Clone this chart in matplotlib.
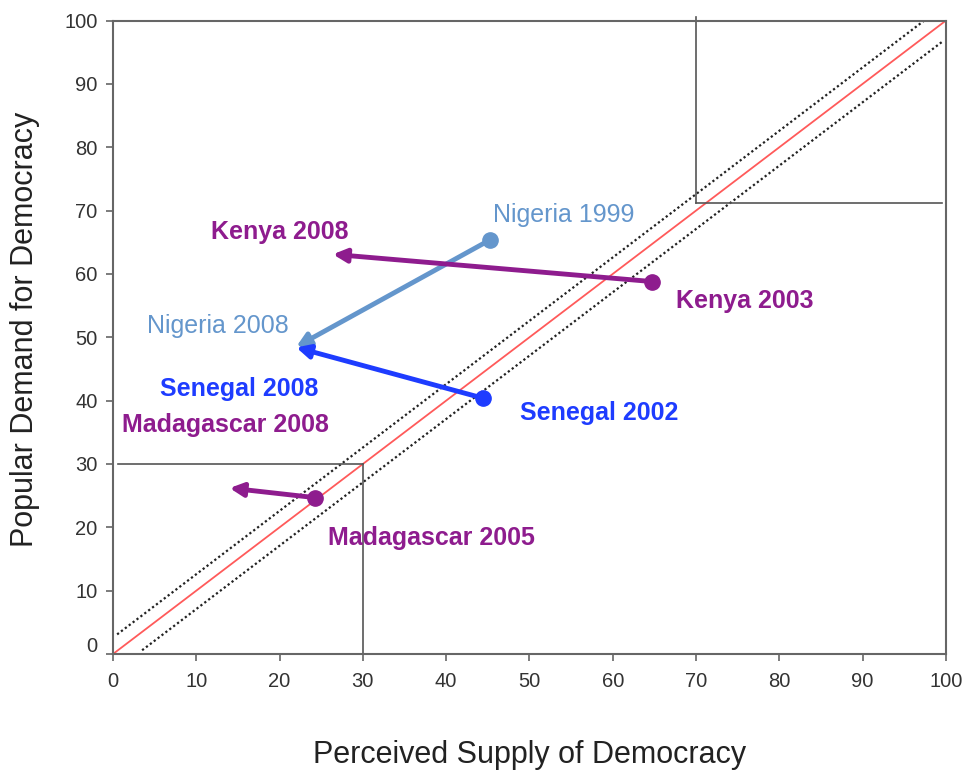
import matplotlib
matplotlib.use("Agg")
import matplotlib.pyplot as plt
import matplotlib.transforms as mtransforms
import numpy as np

plt.rcParams['font.family'] = ['Liberation Sans', 'DejaVu Sans']

# --- data -------------------------------------------------------------
countries = ["Nigeria", "Senegal", "Kenya", "Madagascar"]
supply_start = [45.3, 44.4, 64.7, 24.2]
demand_start = [65.4, 40.4, 58.8, 24.7]
supply_end = [22.0, 22.0, 26.4, 14.0]
demand_end = [48.5, 48.4, 63.1, 26.2]
colors = ["#6496cc", "#1e3cff", "#8e1c8e", "#8e1c8e"]

label_text = ["Nigeria 1999", "Nigeria 2008", "Senegal 2002", "Senegal 2008",
              "Kenya 2003", "Kenya 2008", "Madagascar 2005", "Madagascar 2008"]
label_x = [45.6, 4.1, 48.9, 5.6, 67.6, 11.8, 25.8, 1.1]
label_y = [69.3, 51.8, 38.0, 41.8, 55.7, 66.6, 18.3, 36.1]
label_color = ["#6496cc", "#6496cc", "#1e3cff", "#1e3cff",
               "#8e1c8e", "#8e1c8e", "#8e1c8e", "#8e1c8e"]
label_bold = [False, False, True, True, True, True, True, True]

band_offset_hi = 2.6
band_offset_lo = -2.9
quad_lo = 30
quad_hi_x = 70
quad_hi_y = 71.2

# --- plot -------------------------------------------------------------
fig = plt.figure(figsize=(9.68, 7.72), dpi=100)
ax = fig.add_axes([0.1167, 0.1528, 0.8605, 0.8206])
ax.set_xlim(0, 100)
ax.set_ylim(0, 100)

# diagonal and band
diag = np.array([0, 100])
ax.plot(diag, diag, color="#ff5a5a", lw=1.3, zorder=2)
ax.plot([0.5, 97.7], [0.5 + band_offset_hi, 97.7 + band_offset_hi],
        color="#222222", lw=1.6, ls=(0, (1, 1.2)), zorder=2)
ax.plot([3.5, 99.5], [3.5 + band_offset_lo, 99.5 + band_offset_lo],
        color="#222222", lw=1.6, ls=(0, (1, 1.2)), zorder=2)

# quadrant boxes
ax.plot([0.6, quad_lo], [quad_lo, quad_lo], color="#555555", lw=1.2)
ax.plot([quad_lo, quad_lo], [0, quad_lo], color="#555555", lw=1.2)
ax.plot([quad_hi_x, quad_hi_x], [quad_hi_y, 100.6], color="#555555", lw=1.2,
        clip_on=False)
ax.plot([quad_hi_x, 99.5], [quad_hi_y, quad_hi_y], color="#555555", lw=1.2)

# trajectories
for i in range(len(countries)):
    ax.annotate("", xy=(supply_end[i], demand_end[i]),
                xytext=(supply_start[i], demand_start[i]),
                arrowprops=dict(arrowstyle="-|>,head_length=0.8,head_width=0.4",
                                color=colors[i], lw=3.5, shrinkA=0, shrinkB=0),
                zorder=4)
    ax.plot(supply_start[i], demand_start[i], "o", color=colors[i],
            markersize=11, zorder=5)

for t, x, y, c, b in zip(label_text, label_x, label_y, label_color, label_bold):
    ax.text(x, y, t, color=c, fontsize=18, ha="left", va="center",
            fontweight="bold" if b else "normal", zorder=6)

# axes styling
for s in ax.spines.values():
    s.set_color("#666666")
    s.set_linewidth(1.5)
ax.set_xticks(range(0, 101, 10))
ax.set_yticks(range(0, 101, 10))
ax.tick_params(axis="both", length=5, width=1.2, color="#666666",
               labelsize=14.5, labelcolor="#333333")
ax.tick_params(axis="x", pad=8)
ax.tick_params(axis="y", pad=6)
# the "0" on the y axis sits a little above its tick
zero_lab = ax.get_yticklabels()[0]
zero_lab.set_transform(zero_lab.get_transform() +
                       mtransforms.ScaledTranslation(0, 0.1, fig.dpi_scale_trans))

ax.set_xlabel("Perceived Supply of Democracy", fontsize=22, color="#222222",
              labelpad=35)
ax.set_ylabel("Popular Demand for Democracy", fontsize=22, color="#222222",
              labelpad=16)
ax.yaxis.set_label_coords(-0.088, 0.513)

fig.savefig("out.png", dpi=100)
